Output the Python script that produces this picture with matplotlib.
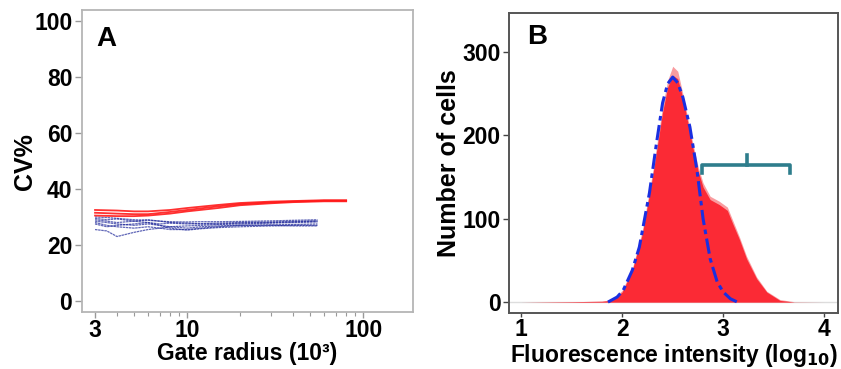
import matplotlib
matplotlib.use("Agg")
import matplotlib.pyplot as plt
import numpy as np

plt.rcParams['font.family'] = ['Liberation Sans', 'DejaVu Sans']
plt.rcParams['font.weight'] = 'bold'

# ---------------- Panel A data ----------------
red_x = [3, 4, 5, 6, 8, 10, 15, 20, 30, 40, 60, 80]
red_1 = [32.5, 32.3, 32.0, 32.0, 32.5, 33.2, 34.3, 35.0, 35.5, 35.7, 36.0, 36.0]
red_2 = [31.5, 31.2, 31.0, 31.0, 31.8, 32.5, 33.8, 34.6, 35.2, 35.5, 35.8, 35.8]
red_3 = [30.5, 30.3, 30.3, 30.5, 31.2, 32.0, 33.2, 34.2, 34.9, 35.3, 35.6, 35.6]

blue_x = [3, 3.5, 4, 5, 6, 7, 8, 10, 12, 15, 20, 30, 40, 55]
blue_1 = [30.0, 29.8, 29.5, 29.0, 28.8, 28.5, 28.3, 28.2, 28.3, 28.3, 28.4, 28.6, 28.8, 29.0]
blue_2 = [29.5, 29.0, 29.3, 28.5, 28.0, 27.5, 27.8, 27.5, 27.6, 27.8, 28.0, 28.2, 28.4, 28.6]
blue_3 = [28.5, 28.0, 27.5, 27.0, 27.5, 27.0, 26.5, 26.8, 27.0, 27.3, 27.5, 27.8, 28.0, 28.2]
blue_4 = [28.0, 27.0, 26.5, 26.0, 26.5, 26.0, 25.5, 25.5, 26.0, 26.5, 27.0, 27.2, 27.3, 27.5]
blue_5 = [27.5, 26.5, 27.0, 27.5, 28.0, 27.0, 26.0, 25.3, 25.8, 26.2, 26.5, 26.8, 27.0, 27.0]
blue_6 = [25.5, 25.0, 23.0, 24.5, 25.5, 26.0, 26.5, 26.0, 26.5, 26.8, 27.0, 27.0, 26.8, 26.8]
blue_7 = [29.0, 28.5, 28.0, 28.5, 29.0, 28.5, 28.0, 27.8, 27.5, 27.5, 27.8, 28.0, 28.2, 28.5]

a_yticks = [0, 20, 40, 60, 80, 100]
a_xticks = [3, 10, 100]

# ---------------- Panel B data ----------------
hist_x = [1.0, 1.5, 1.8, 1.9, 2.0, 2.1, 2.2, 2.3, 2.4, 2.45, 2.5, 2.55, 2.6, 2.65, 2.7,
          2.75, 2.8, 2.87, 2.96, 3.04, 3.09, 3.16, 3.23, 3.33, 3.43, 3.56, 3.7, 4.0]
hist_main = [0, 0.5, 1, 2, 12, 38, 82, 150, 228, 258, 272, 268, 245, 215, 185,
             158, 138, 123, 117, 110, 95, 75, 52, 28, 12, 2, 0, 0]
hist_upper = [0, 0.5, 1, 3, 14, 40, 86, 155, 235, 266, 283, 277, 250, 220, 190,
              163, 143, 127, 121, 114, 99, 78, 55, 30, 13, 3, 0.5, 0]

fit_x = [1.86, 1.95, 2.01, 2.1, 2.17, 2.27, 2.34, 2.40, 2.45, 2.50, 2.55, 2.60, 2.67,
         2.74, 2.80, 2.87, 2.94, 3.0, 3.07, 3.14]
fit_y = [0, 6, 14, 38, 66, 131, 191, 239, 262, 270, 263, 246, 210,
         158, 100, 52, 24, 12, 4, 0]

bracket_x = [2.79, 3.66]
bracket_mid = 3.23
bracket_y = 164

b_yticks = [0, 100, 200, 300]
b_xticks = [1, 2, 3, 4]

fig = plt.figure(figsize=(8.41, 3.69), dpi=100)

# ---------------- Panel A ----------------
axA = fig.add_axes([0.0975, 0.1545, 0.3937, 0.818])
for ys in (blue_1, blue_2, blue_3, blue_4, blue_5, blue_6, blue_7):
    axA.plot(blue_x, ys, color='#1d2699', lw=0.9, alpha=0.7, ls=(0, (2, 0.5)))
for ys in (red_1, red_2, red_3):
    axA.plot(red_x, ys, color='#ff1a1a', lw=1.3, alpha=0.9)
axA.set_xscale('log')
axA.set_xlim(2.53, 192)
axA.set_ylim(-4, 104)
axA.set_yticks(a_yticks)
axA.set_xticks(a_xticks)
axA.set_xticklabels([str(t) for t in a_xticks])
axA.tick_params(axis='both', which='major', labelsize=16.5, color='#999999',
                length=5, width=1, direction='out', pad=2)
axA.tick_params(axis='x', which='major', length=4, pad=1)
axA.tick_params(axis='x', which='minor', color='#999999', length=3, width=0.8)
for s in axA.spines.values():
    s.set_color('#b5b5b5')
    s.set_linewidth(1.3)
axA.set_ylabel('CV%', fontsize=18, fontweight='bold', labelpad=-2)
axA.text(0.042, 0.86, 'A', transform=axA.transAxes, fontsize=20, fontweight='bold',
         ha='left', va='bottom')
fig.text((82 + 413) / 2 / 841, 1 - 342 / 369, 'Gate radius (10\u00b3)',
         fontsize=16.5, fontweight='bold', ha='center', va='top')

# ---------------- Panel B ----------------
axB = fig.add_axes([0.605, 0.152, 0.391, 0.813])
axB.axhline(0, color='#dddddd', lw=1.0, zorder=0)
axB.fill_between(hist_x, 0, hist_upper, color='#f55a60', alpha=0.6, lw=0, zorder=1)
axB.fill_between(hist_x, 0, hist_main, color='#fb2a35', lw=0, zorder=2)
axB.plot(fit_x, fit_y, color='#1a2fe0', lw=2.2, ls=(0, (5, 1.5, 1.5, 1.5)), zorder=3)
# bracket
bc = '#2e7d8c'
axB.plot([bracket_x[0], bracket_x[0], bracket_x[1], bracket_x[1]],
         [bracket_y - 9, bracket_y, bracket_y, bracket_y - 9],
         color=bc, lw=2.6, solid_joinstyle='round', zorder=4)
axB.plot([bracket_mid, bracket_mid], [bracket_y, bracket_y + 12], color=bc, lw=2.6, zorder=4)
axB.set_xlim(0.88, 4.13)
axB.set_ylim(-13, 347)
axB.set_yticks(b_yticks)
axB.set_xticks(b_xticks)
axB.tick_params(axis='both', which='major', labelsize=16.5, color='#444444',
                length=4, width=1, direction='out', pad=2)
axB.tick_params(axis='x', which='major', length=3, pad=1)
for s in axB.spines.values():
    s.set_color('#555555')
    s.set_linewidth(1.4)
axB.set_ylabel('Number of cells', fontsize=18, fontweight='bold', labelpad=1)
axB.text(0.055, 0.877, 'B', transform=axB.transAxes, fontsize=20, fontweight='bold',
         ha='left', va='bottom')
fig.text(674 / 841, 1 - 342 / 369, 'Fluorescence intensity (log$_{\\mathbf{10}}$)',
         fontsize=16.5, fontweight='bold', ha='center', va='top')

fig.savefig('out.png', dpi=100)
